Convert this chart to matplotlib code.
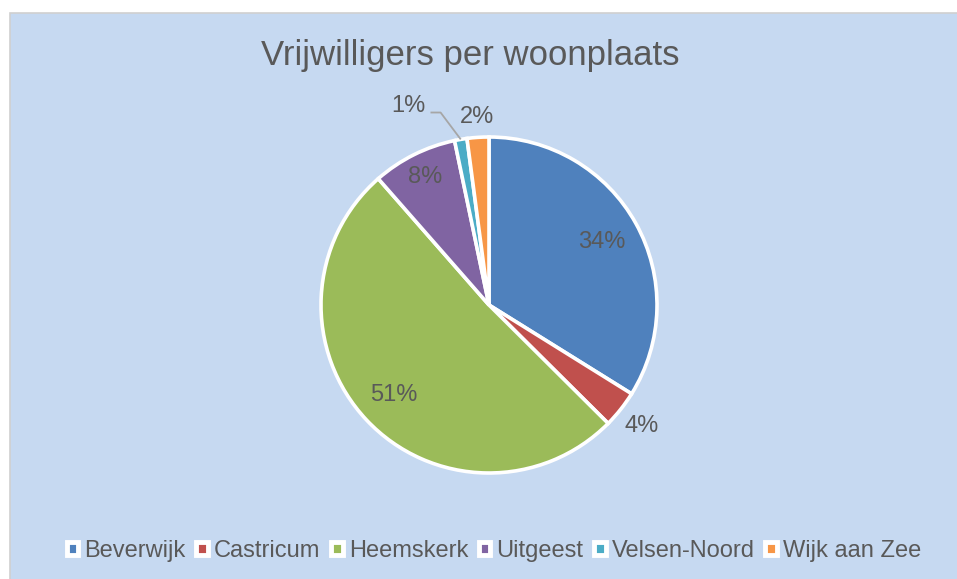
import numpy as np
import matplotlib
matplotlib.use("Agg")
import matplotlib.pyplot as plt
import matplotlib.patches as mpatches

# data
places = ["Beverwijk", "Castricum", "Heemskerk", "Uitgeest", "Velsen-Noord", "Wijk aan Zee"]
shares = [34.0, 3.6, 51.3, 8.2, 1.2, 2.1]
colors = ["#4F81BD", "#C0504D", "#9BBB59", "#8064A2", "#4BACC6", "#F79646"]
# radial position of each percentage label (fraction of radius), None = leader line
label_r = [0.77, 1.16, 0.78, 0.85, None, 1.12]

BG = "#C6D9F1"
TXT = "#595959"
plt.rcParams["font.family"] = ["Liberation Sans", "DejaVu Sans"]

W, H = 957, 579
fig = plt.figure(figsize=(W / 100, H / 100), dpi=100, facecolor="white")

# chart area with thin grey border
fig.patches.append(mpatches.Rectangle((9.5 / W, -0.01), 1.02, 1 - 12.5 / H + 0.01,
                                      transform=fig.transFigure, facecolor=BG,
                                      edgecolor="#D0D0D0", linewidth=1.2, zorder=-5))

cx, cy, R = 489 / W, 1 - 305 / H, 168
k = 1.5
aw, ah = 2 * k * R / W, 2 * k * R / H
ax = fig.add_axes([cx - aw / 2, cy - ah / 2, aw, ah])
ax.set_zorder(2)
ax.axis("off")

wedges, _ = ax.pie(shares, colors=colors, startangle=90, counterclock=False,
                   radius=1.0, wedgeprops={"edgecolor": "white", "linewidth": 2.6})
ax.set_xlim(-k, k)
ax.set_ylim(-k, k)
ax.set_aspect("equal")

total = sum(shares)
for w, v, rr in zip(wedges, shares, label_r):
    mid = np.deg2rad((w.theta1 + w.theta2) / 2)
    pct = f"{round(100 * v / total):.0f}%"
    x, y = np.cos(mid), np.sin(mid)
    if rr is None:
        # small slice: label moved up-left, leader line back to the wedge
        tx, ty = x - 0.31, y + 0.20
        ax.text(tx, ty, pct, fontsize=17, color=TXT, ha="center", va="center")
        ax.plot([tx + 0.13, tx + 0.19, x], [ty - 0.04, ty - 0.04, y],
                color="#A6A6A6", lw=1.3, solid_capstyle="butt")
    else:
        ax.text(x * rr, y * rr, pct, fontsize=17, color=TXT, ha="center", va="center")

fig.text(470 / W, 1 - 56 / H, "Vrijwilligers per woonplaats", fontsize=25, color=TXT,
         ha="center", va="center")

handles = [mpatches.Patch(facecolor=c, edgecolor="white", linewidth=3.5) for c in colors]
fig.legend(handles, places, loc="center", bbox_to_anchor=(494 / W, 1 - 551 / H),
           ncol=6, frameon=False, fontsize=17, labelcolor=TXT,
           handlelength=0.5, handleheight=0.5, handletextpad=0.25,
           columnspacing=0.45)

plt.savefig("out.png", dpi=100, facecolor="white")
plt.close()
